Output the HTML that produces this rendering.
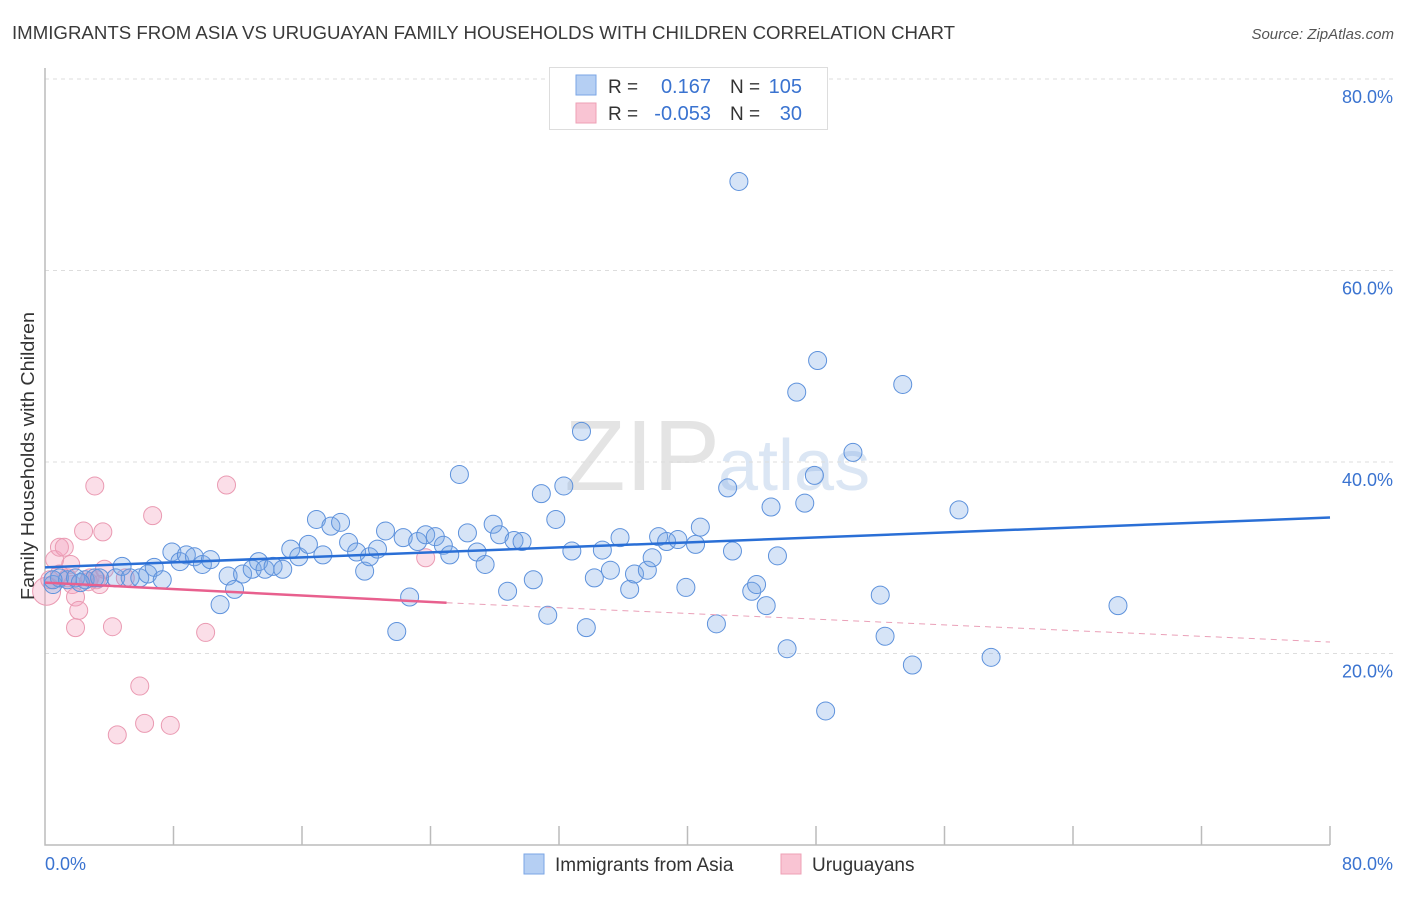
<!DOCTYPE html>
<html><head><meta charset="utf-8"><style>
body{margin:0;background:#fff;font-family:"Liberation Sans",sans-serif;}
svg text{font-family:"Liberation Sans",sans-serif;}
</style></head><body>
<svg id="chart" width="1406" height="892" xmlns="http://www.w3.org/2000/svg">
<text x="12" y="39" font-size="18.5" fill="#3a3a3a" textLength="943" lengthAdjust="spacingAndGlyphs">IMMIGRANTS FROM ASIA VS URUGUAYAN FAMILY HOUSEHOLDS WITH CHILDREN CORRELATION CHART</text>
<text x="1394" y="39" font-size="15" font-style="italic" fill="#555" text-anchor="end">Source: ZipAtlas.com</text>
<text x="720" y="490" font-size="100" font-family="Liberation Serif" fill="#e4e4e4" text-anchor="end">ZIP</text>
<text x="718" y="490" font-size="72" fill="#dbe6f4">atlas</text>
<g id="grid"></g>
<g id="axes"></g>
<g id="marks"></g>
<text transform="translate(34,456) rotate(-90)" font-size="18" fill="#333" text-anchor="middle" textLength="288" lengthAdjust="spacingAndGlyphs">Family Households with Children</text>
<g>
<rect x="549.5" y="67.5" width="278" height="62" fill="#fff" stroke="#ddd"/>
<rect x="576" y="75" width="20" height="20" fill="#b5cff3" stroke="#7aa6e6"/>
<rect x="576" y="103" width="20" height="20" fill="#f9c4d3" stroke="#eea0b6"/>
<text x="608" y="93" font-size="19" fill="#333">R =</text>
<text x="711" y="93" font-size="20" fill="#3a73d0" text-anchor="end">0.167</text>
<text x="730" y="93" font-size="19" fill="#333">N =</text>
<text x="802" y="93" font-size="20" fill="#3a73d0" text-anchor="end">105</text>
<text x="608" y="120" font-size="19" fill="#333">R =</text>
<text x="711" y="120" font-size="20" fill="#3a73d0" text-anchor="end">-0.053</text>
<text x="730" y="120" font-size="19" fill="#333">N =</text>
<text x="802" y="120" font-size="20" fill="#3a73d0" text-anchor="end">30</text>
</g>
<g>
<rect x="524" y="854" width="20" height="20" fill="#b5cff3" stroke="#7aa6e6"/>
<text x="555" y="871" font-size="19" fill="#333">Immigrants from Asia</text>
<rect x="781" y="854" width="20" height="20" fill="#f9c4d3" stroke="#eea0b6"/>
<text x="812" y="871" font-size="19" fill="#333">Uruguayans</text>
</g>
</svg>
<script>
const yTicks=[20,40,60,80];
const xTickLabels=["0.0%","80.0%"];
const asiaX=[0.5,0.9,1.4,1.9,2.5,3.1,3.4,4.4,4.8,5.3,5.9,6.4,6.8,7.3,7.9,8.4,8.8,9.3,9.8,10.3,10.9,11.4,11.8,12.3,12.9,13.3,13.7,14.2,14.8,15.3,15.8,16.4,16.9,17.3,17.8,18.4,18.9,19.4,19.9,20.2,20.7,21.2,21.9,22.3,22.7,23.2,23.7,24.3,24.8,25.2,25.8,26.3,26.9,27.4,27.9,28.3,28.8,29.2,29.7,30.4,30.9,31.3,31.8,32.3,32.8,33.4,33.7,34.2,34.7,35.2,35.8,36.4,36.7,37.5,37.8,38.2,38.7,39.4,39.9,40.5,40.8,41.8,42.5,42.8,43.2,44.0,44.3,44.9,45.2,45.6,46.2,46.8,47.3,47.9,48.1,48.6,50.3,52.0,52.3,53.4,54.0,56.9,58.9,66.8,0.5,2.2];
const asiaY=[27.2,27.9,27.7,27.9,27.7,27.9,27.9,27.9,29.1,27.9,27.9,28.3,29.0,27.7,30.6,29.6,30.3,30.1,29.3,29.8,25.1,28.1,26.7,28.3,28.8,29.6,28.8,29.1,28.8,30.9,30.1,31.4,34.0,30.3,33.3,33.7,31.6,30.6,28.6,30.1,30.9,32.8,22.3,32.1,25.9,31.7,32.4,32.2,31.3,30.3,38.7,32.6,30.6,29.3,33.5,32.4,26.5,31.8,31.7,27.7,36.7,24.0,34.0,37.5,30.7,43.2,22.7,27.9,30.8,28.7,32.1,26.7,28.3,28.7,30.0,32.2,31.7,31.9,26.9,31.4,33.2,23.1,37.3,30.7,69.3,26.5,27.2,25.0,35.3,30.2,20.5,47.3,35.7,38.6,50.6,14.0,41.0,26.1,21.8,48.1,18.8,35.0,19.6,25.0,27.7,27.4];
const uruX=[0.1,0.3,0.6,0.9,1.2,1.6,1.7,1.9,2.1,1.9,2.4,2.8,3.1,3.2,3.4,3.6,3.7,4.2,4.5,5.0,5.9,6.2,6.7,7.8,10.0,11.3,23.7,0.9,1.4,2.7];
const uruY=[26.5,27.7,29.8,31.1,31.1,29.3,27.2,25.9,24.5,22.7,32.8,27.9,37.5,27.7,27.2,32.7,28.8,22.8,11.5,27.9,16.6,12.7,34.4,12.5,22.2,37.6,30.0,28.3,27.9,27.5];
const asiaTrend=[29.0,34.2];
const uruTrend=[27.4,25.3,21.2];
const X0=45,X1=1330,Y0=845,Y80=79;
const sx=v=>X0+(v/80)*(X1-X0);
const sy=v=>Y0-(v/80)*(Y0-Y80);
const NS="http://www.w3.org/2000/svg";
function mk(p,t,a){const e=document.createElementNS(NS,t);for(const k in a)e.setAttribute(k,a[k]);p.appendChild(e);return e;}
const grid=document.getElementById('grid'),axes=document.getElementById('axes'),marks=document.getElementById('marks');
yTicks.forEach(v=>{
 const l=mk(grid,'line',{x1:X0,x2:1394,y1:sy(v),y2:sy(v),stroke:'#ddd','stroke-dasharray':'4,4'});
 
 
 const t=mk(grid,'text',{x:1393,y:sy(v)+24,'font-size':18,fill:'#3a73d0','text-anchor':'end'});
 t.textContent=v.toFixed(1)+'%';
 
 
});
const ax=mk(axes,'path',{d:`M${X0},68V${Y0}H${X1}`,stroke:'#bbb',fill:'none','stroke-width':1.5});


for(let i=1;i<=10;i++){
 const tk=mk(axes,'line',{x1:sx(i*8),x2:sx(i*8),y1:826,y2:Y0,stroke:'#bbb','stroke-width':1.5});
 
 
}
const xl0=mk(axes,'text',{x:45,y:870,'font-size':18,fill:'#3a73d0'});xl0.textContent=xTickLabels[0];


const xl1=mk(axes,'text',{x:1393,y:870,'font-size':18,fill:'#3a73d0','text-anchor':'end'});xl1.textContent=xTickLabels[1];


uruX.forEach((x,i)=>{
 const c=mk(marks,'circle',{cx:sx(x),cy:sy(uruY[i]),r:i===0?14:9,fill:'rgba(244,160,188,0.35)',stroke:'#ea9ab2','stroke-width':1});
 
 
});
asiaX.forEach((x,i)=>{
 const c=mk(marks,'circle',{cx:sx(x),cy:sy(asiaY[i]),r:9,fill:'rgba(120,165,230,0.3)',stroke:'#5e92dc','stroke-width':1});
 
 
});
const bt=mk(marks,'line',{x1:sx(0),y1:sy(asiaTrend[0]),x2:sx(80),y2:sy(asiaTrend[1]),stroke:'#2a6fd6','stroke-width':2.5});


const pt=mk(marks,'line',{x1:sx(0),y1:sy(uruTrend[0]),x2:sx(25),y2:sy(uruTrend[1]),stroke:'#e8608e','stroke-width':2.5});


const pd=mk(marks,'line',{x1:sx(25),y1:sy(uruTrend[1]),x2:sx(80),y2:sy(uruTrend[2]),stroke:'#eaa0b8','stroke-width':1,'stroke-dasharray':'6,5'});


</script>
</body></html>
